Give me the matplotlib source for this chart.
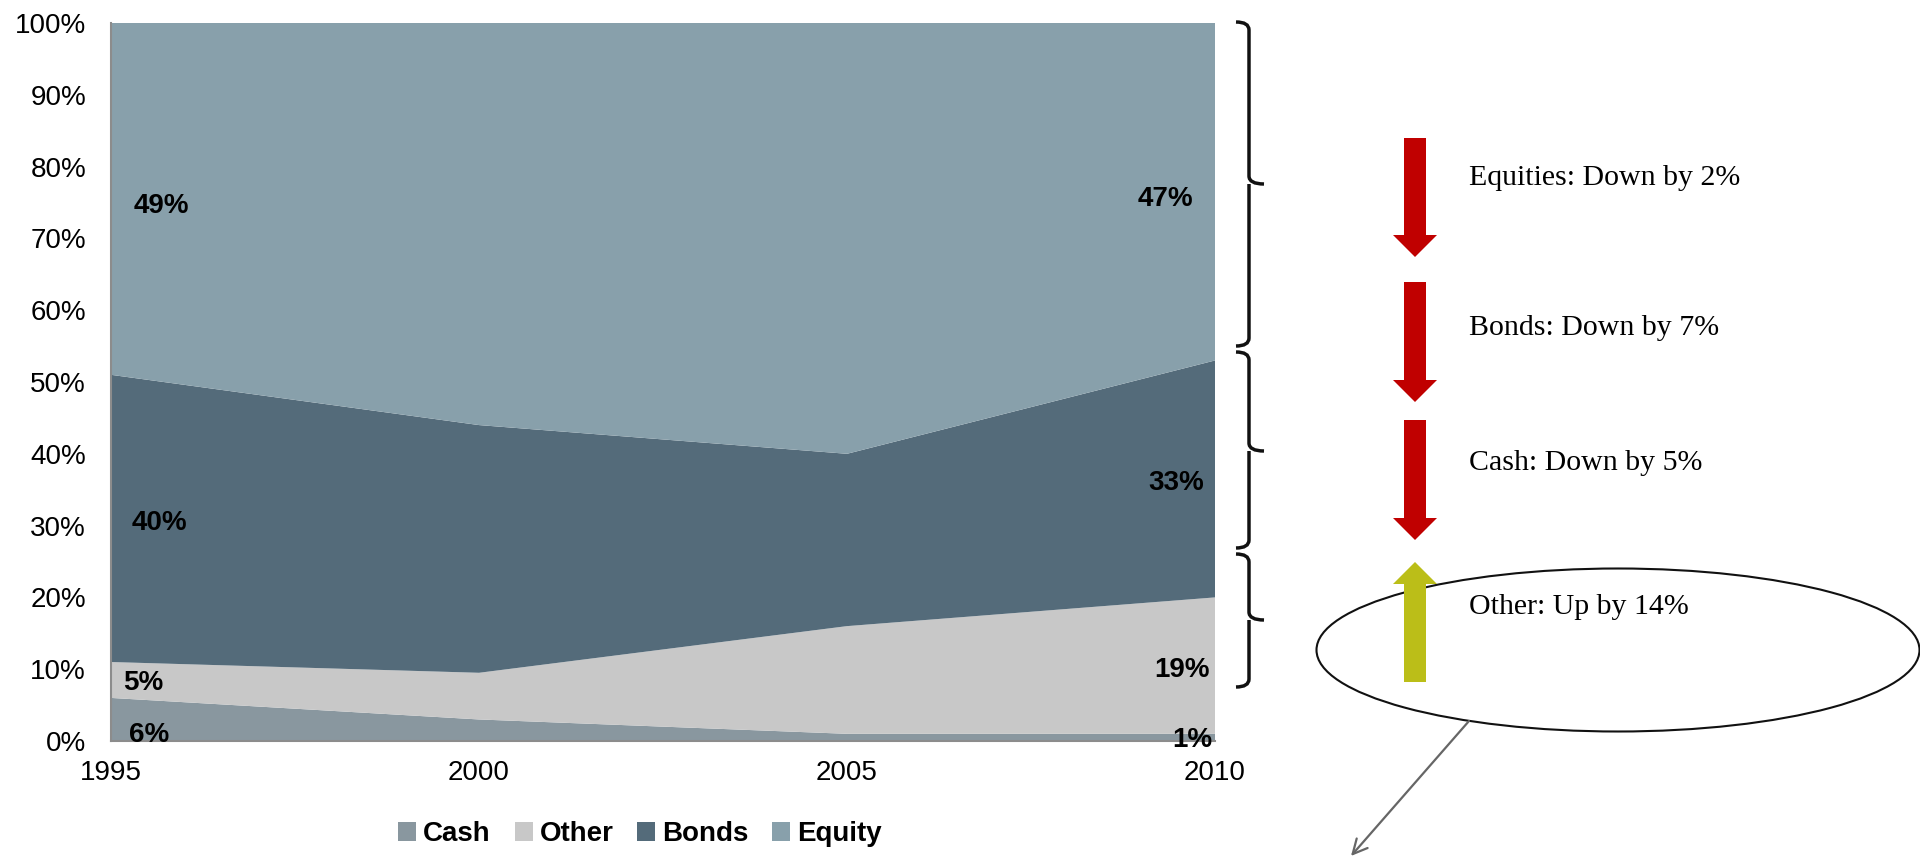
import numpy as np
import matplotlib.pyplot as plt
from matplotlib.patches import Patch, Ellipse, FancyArrow, PathPatch
from matplotlib.path import Path

plt.rcParams['font.family'] = ['Liberation Sans', 'DejaVu Sans']

years = [1995, 2000, 2005, 2010]
cash = [6, 3, 1, 1]
other = [5, 6.5, 15, 19]
bonds = [40, 34.5, 24, 33]
equity = [49, 56, 60, 47]

series_names = ['Cash', 'Other', 'Bonds', 'Equity']
series_colors = ['#89979F', '#C8C8C8', '#546B7A', '#88A0AB']

changes = ['Equities: Down by 2%', 'Bonds: Down by 7%', 'Cash: Down by 5%', 'Other: Up by 14%']

W, H = 1920, 858
fig = plt.figure(figsize=(W / 100, H / 100), dpi=100)
ax = fig.add_axes([111 / W, 1 - 741 / H, (1215 - 111) / W, (741 - 23) / H])

ax.stackplot(years, cash, other, bonds, equity, colors=series_colors, linewidth=0)
ax.set_xlim(1995, 2010)
ax.set_ylim(0, 100)
ax.set_xticks([1995, 2000, 2005, 2010])
ax.set_yticks(np.arange(0, 101, 10))
ax.set_yticklabels([f'{v}%' for v in range(0, 101, 10)])
ax.tick_params(length=0, labelsize=20, colors='black')
ax.tick_params(axis='y', pad=18)
ax.tick_params(axis='x', pad=14)
for side in ['top', 'right']:
    ax.spines[side].set_visible(False)
for side in ['left', 'bottom']:
    ax.spines[side].set_color('#8C8C8C')
    ax.spines[side].set_linewidth(1.5)

# value labels at the first and last year, placed in the middle of each band
stack = np.array([cash, other, bonds, equity])
bottoms = np.vstack([np.zeros(4), np.cumsum(stack, axis=0)[:-1]])
mids = bottoms + stack / 2
left_offsets = [(13, -11), (9, -2), (15, -3), (16, -5)]
right_offsets = [(-2, -2), (-4, -3), (-8, -3), (-16, -5)]
for i in range(4):
    ax.annotate(f'{stack[i, 0]:g}%', (years[0], mids[i, 0]), xytext=left_offsets[i],
                textcoords='offset points', ha='left', va='center',
                fontsize=20, fontweight='bold')
    ax.annotate(f'{stack[i, -1]:g}%', (years[-1], mids[i, -1]), xytext=right_offsets[i],
                textcoords='offset points', ha='right', va='center',
                fontsize=20, fontweight='bold')

handles = [Patch(facecolor=c, edgecolor='none') for c in series_colors]
fig.legend(handles, series_names, loc='center', bbox_to_anchor=(640 / W, 1 - 834 / H),
           ncol=4, frameon=False, handlelength=0.65, handleheight=0.65,
           handletextpad=0.25, columnspacing=0.85,
           prop={'size': 20, 'weight': 'bold'})

# annotation layer in pixel coordinates
ov = fig.add_axes([0, 0, 1, 1], zorder=5)
ov.set_xlim(0, W)
ov.set_ylim(H, 0)
ov.axis('off')


def brace(top, tip, bottom, xl=1236, xm=1249, xr=1264, r=8):
    verts = [(xl, top), (xm, top), (xm, top + r),
             (xm, tip - r), (xm, tip), (xr, tip),
             (xm, tip), (xm, tip + r),
             (xm, bottom - r), (xm, bottom), (xl, bottom)]
    codes = [Path.MOVETO, Path.CURVE3, Path.CURVE3,
             Path.LINETO, Path.CURVE3, Path.CURVE3,
             Path.MOVETO, Path.LINETO,
             Path.LINETO, Path.CURVE3, Path.CURVE3]
    ov.add_patch(PathPatch(Path(verts, codes), facecolor='none',
                           edgecolor='#111111', lw=2.5, capstyle='butt'))


brace(22, 184, 346)
brace(352, 451, 548)
brace(554, 620, 687)

ov.add_patch(Ellipse((1618, 650), 603, 163, facecolor='white', edgecolor='#111111', lw=1.5))

arrow_spans = [(138, 257), (282, 402), (420, 540), (682, 562)]
arrow_colors = ['#C00000', '#C00000', '#C00000', '#BBBE18']
for (y0, y1), c in zip(arrow_spans, arrow_colors):
    ov.add_patch(FancyArrow(1415, y0, 0, y1 - y0, width=22, head_width=44,
                            head_length=22, length_includes_head=True,
                            facecolor=c, edgecolor='none'))

for txt, y in zip(changes, [178, 328, 463, 607]):
    ov.text(1469, y, txt, ha='left', va='center', fontsize=21.5,
            family=['Liberation Serif', 'DejaVu Serif'])

ov.annotate('', xy=(1351, 856), xytext=(1469, 721),
            arrowprops=dict(arrowstyle='->', color='#666666', lw=1.6, mutation_scale=26,
                            shrinkA=0, shrinkB=0))

fig.savefig('out.png', dpi=100)
